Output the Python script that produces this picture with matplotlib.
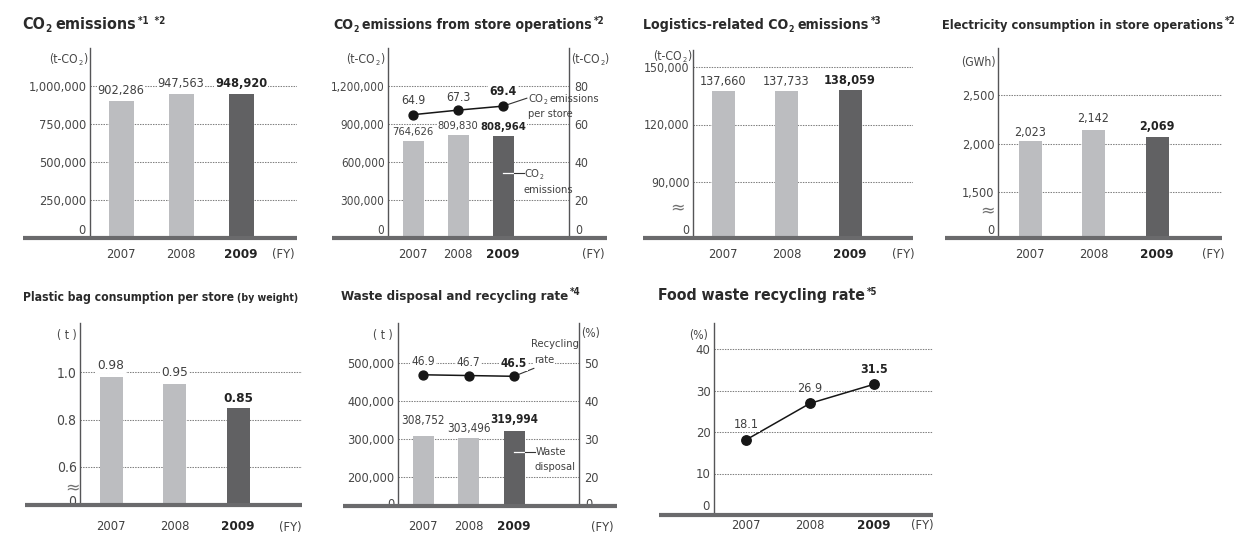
import os
import matplotlib
matplotlib.use("Agg")
import matplotlib.pyplot as plt
from matplotlib import font_manager as fm
from matplotlib.lines import Line2D

# ---- data -------------------------------------------------------------
years = ["2007", "2008", "2009"]
co2_total = [902286, 947563, 948920]
co2_store = [764626, 809830, 808964]
co2_per_store = [64.9, 67.3, 69.4]
logistics_co2 = [137660, 137733, 138059]
electricity_gwh = [2023, 2142, 2069]
plastic_bag_t = [0.98, 0.95, 0.85]
waste_t = [308752, 303496, 319994]
recycling_rate = [46.9, 46.7, 46.5]
food_recycling = [18.1, 26.9, 31.5]

co2_total_ticks = [250000, 500000, 750000, 1000000]
co2_store_ticks = [300000, 600000, 900000, 1200000]
per_store_ticks = [20, 40, 60, 80]
logistics_ticks = [90000, 120000, 150000]
electricity_ticks = [1500, 2000, 2500]
plastic_ticks = [0.6, 0.8, 1.0]
waste_ticks = [200000, 300000, 400000, 500000]
rate_ticks = [20, 30, 40, 50]
food_ticks = [10, 20, 30, 40]

# ---- fonts: prefer a narrow / condensed sans -------------------------
_PREF = ("liberationsansnarrow", "notosans-cond", "dejavusanscondensed",
         "opensans-cond", "opensans_cond", "opensanscondensed",
         "robotocondensed", "roboto_condensed", "arialnarrow")
_SKIP = ("italic", "oblique", "semi", "extra", "ultra", "black", "medium",
         "thin", "mono", "display", "serif")


def narrow_font(bold):
    best, best_key = None, None
    for f in fm.fontManager.ttflist:
        n = os.path.basename(f.fname).lower().replace(" ", "")
        rank = next((i for i, p in enumerate(_PREF) if n.startswith(p)), None)
        if rank is None or any(k in n for k in _SKIP):
            continue
        if ("bold" in n) != bold:
            continue
        key = (rank, "light" in n, n)
        if best_key is None or key < best_key:
            best, best_key = f.fname, key
    return best


REG_PATH = narrow_font(False)
BOLD_PATH = narrow_font(True)
SCALE = 1.0 if (REG_PATH and BOLD_PATH) else 0.8


def FP(size, bold=False):
    path = BOLD_PATH if bold else REG_PATH
    if REG_PATH and BOLD_PATH:
        return fm.FontProperties(fname=path, size=size * SCALE)
    return fm.FontProperties(family="DejaVu Sans", weight="bold" if bold else "normal",
                             size=size * SCALE)


# ---- style ------------------------------------------------------------
W, H = 1234, 534
LIGHT = "#bcbdc0"
DARK = "#616163"
BASE = "#6a6a6c"
AXIS = "#555557"
GRID = "#808080"
TITLE_C = "#2a2a2a"
TEXT_C = "#404040"
BOLD_C = "#232323"
TICK_C = "#474747"
LINE_C = "#161616"
SFS = 7.0
YEAR_FS = 9.3
NOTE_FS = 8.0
UNIT_FS = 8.7

fig = plt.figure(figsize=(W / 100, H / 100), dpi=100)
fig.patch.set_facecolor("white")
renderer = fig.canvas.get_renderer()


def fx(px):
    return px / W


def fy(py):
    return 1 - py / H


def fmt_int(v):
    return f"{v:,}"


def to_px(ax, x, y):
    d = ax.transData.transform((x, y))
    return d[0], H - d[1]


def rich(x, y, pieces, ha="left", color=TEXT_C):
    """Run of text pieces on one baseline (y in pixels from top).
    pieces: (text, size, bold, rise_px, gap_px)"""
    arts, cx = [], x
    for s, size, bold, rise, gap in pieces:
        cx += gap
        t = fig.text(fx(cx), fy(y - rise), s, fontproperties=FP(size, bold),
                     color=color, ha="left", va="baseline")
        arts.append(t)
        cx = t.get_window_extent(renderer).x1
    shift = {"left": 0, "center": (cx - x) / 2, "right": cx - x}[ha]
    for t in arts:
        px, py = t.get_position()
        t.set_position((px - shift / W, py))


def co2(prefix, suffix, size, bold, gap=0):
    sub_drop = -2.5 if size > 9.5 else -2.0
    pieces = [(prefix + "CO", size, bold, 0, 0), ("2", size * 0.62, bold, sub_drop, 0.6)]
    if suffix:
        pieces.append((suffix, size, bold, 0, gap))
    return pieces


def title(x, y, text, size, note, co2_split=None):
    if co2_split is not None:
        pieces = co2(co2_split[0], co2_split[1], size, True, size * 0.33)
    else:
        pieces = [(text, size, True, 0, 0)]
    rich(x, y, pieces + [(note, SFS, True, 5, 1.5)], color=TITLE_C)


def make_panel(left, right, top, bottom, hi, p_hi, lo, p_lo, c0, sp):
    ax = fig.add_axes([fx(left), fy(bottom), (right - left) / W, (bottom - top) / H])
    k = (hi - lo) / (p_lo - p_hi)
    ax.set_ylim(lo - (bottom - p_lo) * k, hi + (p_hi - top) * k)
    ax.set_xlim((left - c0) / sp, (right - c0) / sp)
    ax.patch.set_visible(False)
    for s in ("top", "right", "bottom"):
        ax.spines[s].set_visible(False)
    ax.spines["left"].set_color(AXIS)
    ax.spines["left"].set_linewidth(1.0)
    ax.tick_params(axis="both", length=0)
    ax.tick_params(axis="y", pad=2.5, labelcolor=TICK_C)
    ax.grid(axis="y", linestyle=(0, (1.4, 1.1)), linewidth=0.75, color=GRID)
    ax.set_axisbelow(True)
    ax._sp = sp
    return ax


def set_yticks(ax, ticks, labels, size):
    ax.set_yticks(ticks)
    ax.set_yticklabels(labels, fontproperties=FP(size))


def right_axis(ax, ratio, ticks, labels, size):
    lo, hi = ax.get_ylim()
    ax2 = ax.twinx()
    ax2.set_ylim(lo / ratio, hi / ratio)
    for s in ("top", "left", "bottom"):
        ax2.spines[s].set_visible(False)
    ax2.spines["right"].set_color(AXIS)
    ax2.spines["right"].set_linewidth(1.0)
    ax2.tick_params(axis="both", length=0)
    ax2.tick_params(axis="y", pad=4, labelcolor=TICK_C)
    set_yticks(ax2, ticks, labels, size)
    ax2._sp = ax._sp
    return ax2


def year_axis(ax, pad):
    ax.set_xticks(range(len(years)))
    ax.set_xticklabels(years, fontproperties=FP(YEAR_FS))
    ax.tick_params(axis="x", pad=pad, labelcolor=TEXT_C)
    lab = ax.get_xticklabels()[-1]
    lab.set_fontproperties(FP(YEAR_FS + 0.3, True))
    lab.set_color(BOLD_C)


def draw_bars(ax, vals, width_px):
    lo = ax.get_ylim()[0]
    ax.bar(range(len(vals)), [v - lo for v in vals], bottom=lo,
           width=width_px / ax._sp, color=[LIGHT, LIGHT, DARK], zorder=2)


def value_labels(ax, vals, fmt, offsets, size):
    for i, (v, off) in enumerate(zip(vals, offsets)):
        last = i == len(vals) - 1
        ax.annotate(fmt(v), xy=(i, v), xytext=(0, off), textcoords="offset pixels",
                    ha="center", va="center", fontproperties=FP(size, last),
                    color=BOLD_C if last else TEXT_C, zorder=4,
                    bbox=dict(boxstyle="square,pad=0.08", fc="white", ec="none"))


def zero_label(ax, dy, size, side="left"):
    left = side == "left"
    ax.annotate("0", xy=(0 if left else 1, 0), xycoords="axes fraction",
                xytext=(-4 if left else 6, dy), textcoords="offset pixels",
                ha="right" if left else "left", va="center",
                fontproperties=FP(size), color=TICK_C)


def break_mark(ax, dx, dy):
    ax.annotate("≈", xy=(0, 0), xycoords="axes fraction", xytext=(dx, dy),
                textcoords="offset pixels", ha="center", va="center",
                fontsize=12.5, color="#707070", family="DejaVu Sans")


def baseline(x0, x1, y):
    fig.add_artist(Line2D([fx(x0), fx(x1)], [fy(y), fy(y)], lw=3.0, color=BASE,
                          solid_capstyle="butt", zorder=5))


def ftext(s, x, y, ha="left", size=NOTE_FS, color=TEXT_C, bold=False, **kw):
    return fig.text(fx(x), fy(y), s, ha=ha, va="center", fontproperties=FP(size, bold),
                    color=color, **kw)


def bar_leader(ax, idx, yval, bar_px, reach_px=10):
    """White tick inside the bar continuing as a dark leader outside it."""
    half = bar_px / 2 / ax._sp
    ax.plot([idx, idx + half], [yval, yval], color="white", lw=0.9, zorder=3)
    ax.plot([idx + half, idx + half + reach_px / ax._sp], [yval, yval],
            color="#333333", lw=0.8, zorder=3, clip_on=False)
    return to_px(ax, idx + half + reach_px / ax._sp, yval)


def point_leader(ax, idx, yval, dx, dy):
    ax.annotate("", xy=(idx, yval), xytext=(dx, dy), textcoords="offset pixels",
                arrowprops=dict(arrowstyle="-", color="#333333", lw=0.8,
                                shrinkA=0, shrinkB=0))
    return to_px(ax, idx, yval)


# ---- 1: CO2 emissions -------------------------------------------------
ax1 = make_panel(90, 297, 48, 238, 1000000, 86, 0, 238, 121, 60)
set_yticks(ax1, co2_total_ticks, [fmt_int(v) for v in co2_total_ticks], 9.2)
draw_bars(ax1, co2_total, 25)
value_labels(ax1, co2_total, fmt_int, [10, 10, 10], 9.1)
zero_label(ax1, 8, 9.2)
year_axis(ax1, 7)
baseline(23, 297, 238)
rich(87, 63, co2("(t-", ")", UNIT_FS, False), ha="right", color=TICK_C)
ftext("(FY)", 283, 255, ha="center", size=YEAR_FS)
title(22, 29, None, 11.5, "*1  *2", co2_split=("", "emissions"))

# ---- 2: CO2 emissions from store operations --------------------------
ax2 = make_panel(388, 569, 48, 238, 1200000, 86, 0, 238, 413, 45)
set_yticks(ax2, co2_store_ticks, [fmt_int(v) for v in co2_store_ticks], 8.4)
draw_bars(ax2, co2_store, 21)
value_labels(ax2, co2_store, fmt_int, [9, 9, 9], 8.0)
zero_label(ax2, 8, 8.4)
year_axis(ax2, 7)
ax2r = right_axis(ax2, 15000, per_store_ticks, [str(v) for v in per_store_ticks], 8.8)
zero_label(ax2r, 8, 8.8, side="right")
ax2r.plot(range(3), co2_per_store, "-o", color=LINE_C, lw=1.1, ms=6.4, zorder=4)
value_labels(ax2r, co2_per_store, lambda v: f"{v:.1f}", [14, 13, 15], 8.8)
px, py = point_leader(ax2r, 2, co2_per_store[2], 24, 8)
rich(px + 25, py - 4, co2("", "emissions", NOTE_FS, False, 2.5))
rich(px + 25, py + 11, [("per store", NOTE_FS, False, 0, 0)])
ex, ey = bar_leader(ax2, 2, 0.635 * co2_store[2], 21)
rich(ex + 1, ey + 4, co2("", "", NOTE_FS, False))
rich(ex, ey + 20, [("emissions", NOTE_FS, False, 0, 0)])
baseline(332, 607, 238)
rich(384, 63, co2("(t-", ")", UNIT_FS, False), ha="right", color=TICK_C)
rich(571, 63, co2("(t-", ")", UNIT_FS, False), ha="left", color=TICK_C)
ftext("(FY)", 593, 255, ha="center", size=YEAR_FS)
title(333, 29, None, 10.1, "*2", co2_split=("", "emissions from store operations"))

# ---- 3: Logistics-related CO2 emissions ------------------------------
ax3 = make_panel(693, 913, 50, 238, 150000, 67, 90000, 182, 723, 63.5)
set_yticks(ax3, logistics_ticks, [fmt_int(v) for v in logistics_ticks], 8.8)
draw_bars(ax3, logistics_co2, 23)
value_labels(ax3, logistics_co2, fmt_int, [9, 9, 9], 9.1)
zero_label(ax3, 8, 8.8)
break_mark(ax3, -16, 31)
year_axis(ax3, 7)
baseline(643, 913, 238)
rich(691, 60, co2("(t-", ")", UNIT_FS, False), ha="right", color=TICK_C)
ftext("(FY)", 903, 255, ha="center", size=YEAR_FS)
title(643, 29, None, 10.2, "*3", co2_split=("Logistics-related ", "emissions"))

# ---- 4: Electricity consumption in store operations ------------------
ax4 = make_panel(998, 1222, 48, 238, 2500, 95, 1500, 192, 1030, 63.5)
set_yticks(ax4, electricity_ticks, [fmt_int(v) for v in electricity_ticks], 9.1)
draw_bars(ax4, electricity_gwh, 23)
value_labels(ax4, electricity_gwh, fmt_int, [9, 11, 10], 8.9)
zero_label(ax4, 8, 9.1)
break_mark(ax4, -11, 28)
year_axis(ax4, 7)
baseline(945, 1222, 238)
ftext("(GWh)", 996, 62, ha="right", size=UNIT_FS, color=TICK_C)
ftext("(FY)", 1213, 255, ha="center", size=YEAR_FS)
title(942, 29, "Electricity consumption in store operations", 9.2, "*2")

# ---- 5: Plastic bag consumption per store -----------------------------
ax5 = make_panel(80, 302, 323, 505, 1.0, 372, 0.6, 467, 111, 63.5)
set_yticks(ax5, plastic_ticks, [f"{v:.1f}" for v in plastic_ticks], 10.0)
draw_bars(ax5, plastic_bag_t, 23)
value_labels(ax5, plastic_bag_t, lambda v: f"{v:.2f}", [11, 11, 9], 9.7)
zero_label(ax5, 3, 10.0)
break_mark(ax5, -8, 18)
year_axis(ax5, 11)
baseline(25, 302, 505)
ftext("( t )", 77, 335, ha="right", size=UNIT_FS, color=TICK_C)
ftext("(FY)", 290, 527, ha="center", size=YEAR_FS)
rich(23, 301, [("Plastic bag consumption per store", 8.7, True, 0, 0),
               ("(by weight)", 7.6, True, 0, 3.5)], color=TITLE_C)

# ---- 6: Waste disposal and recycling rate -----------------------------
ax6 = make_panel(398, 579, 323, 506, 500000, 363, 200000, 477, 423, 45.5)
set_yticks(ax6, waste_ticks, [fmt_int(v) for v in waste_ticks], 9.2)
draw_bars(ax6, waste_t, 21)
value_labels(ax6, waste_t, fmt_int, [15, 9, 12], 8.4)
zero_label(ax6, 1, 9.2)
year_axis(ax6, 10)
ax6r = right_axis(ax6, 10000, rate_ticks, [str(v) for v in rate_ticks], 9.2)
zero_label(ax6r, 1, 9.2, side="right")
ax6r.plot(range(3), recycling_rate, "-o", color=LINE_C, lw=1.1, ms=6.4, zorder=4)
value_labels(ax6r, recycling_rate, lambda v: f"{v:.1f}", [13, 13, 13], 8.6)
px, py = point_leader(ax6r, 2, recycling_rate[2], 20, 8)
ftext("Recycling", px + 17, py - 32)
ftext("rate", px + 20, py - 16,
      bbox=dict(boxstyle="square,pad=0.08", fc="white", ec="none"))
ex, ey = bar_leader(ax6, 2, 0.83 * waste_t[2], 21)
ftext("Waste", ex + 1, ey)
ftext("disposal", ex, ey + 15)
baseline(343, 617, 506)
ftext("( t )", 393, 335, ha="right", size=UNIT_FS, color=TICK_C)
ftext("(%)", 581, 333, ha="left", size=UNIT_FS, color=TICK_C)
ftext("(FY)", 602, 527, ha="center", size=YEAR_FS)
title(341, 300, "Waste disposal and recycling rate", 9.5, "*4")

# ---- 7: Food waste recycling rate -------------------------------------
ax7 = make_panel(714, 933, 323, 515, 40, 349, 0, 515, 746, 64)
set_yticks(ax7, food_ticks, [str(v) for v in food_ticks], 9.4)
ax7.plot(range(3), food_recycling, "-o", color=LINE_C, lw=1.1, ms=6.8, zorder=4)
value_labels(ax7, food_recycling, lambda v: f"{v:.1f}", [15, 15, 15], 9.0)
zero_label(ax7, 9, 9.4)
year_axis(ax7, 3)
baseline(659, 933, 515)
ftext("(%)", 708, 335, ha="right", size=UNIT_FS, color=TICK_C)
ftext("(FY)", 922, 525, ha="center", size=YEAR_FS)
title(658, 300, "Food waste recycling rate", 11.3, "*5")

fig.savefig("out.png", dpi=100, facecolor="white")
